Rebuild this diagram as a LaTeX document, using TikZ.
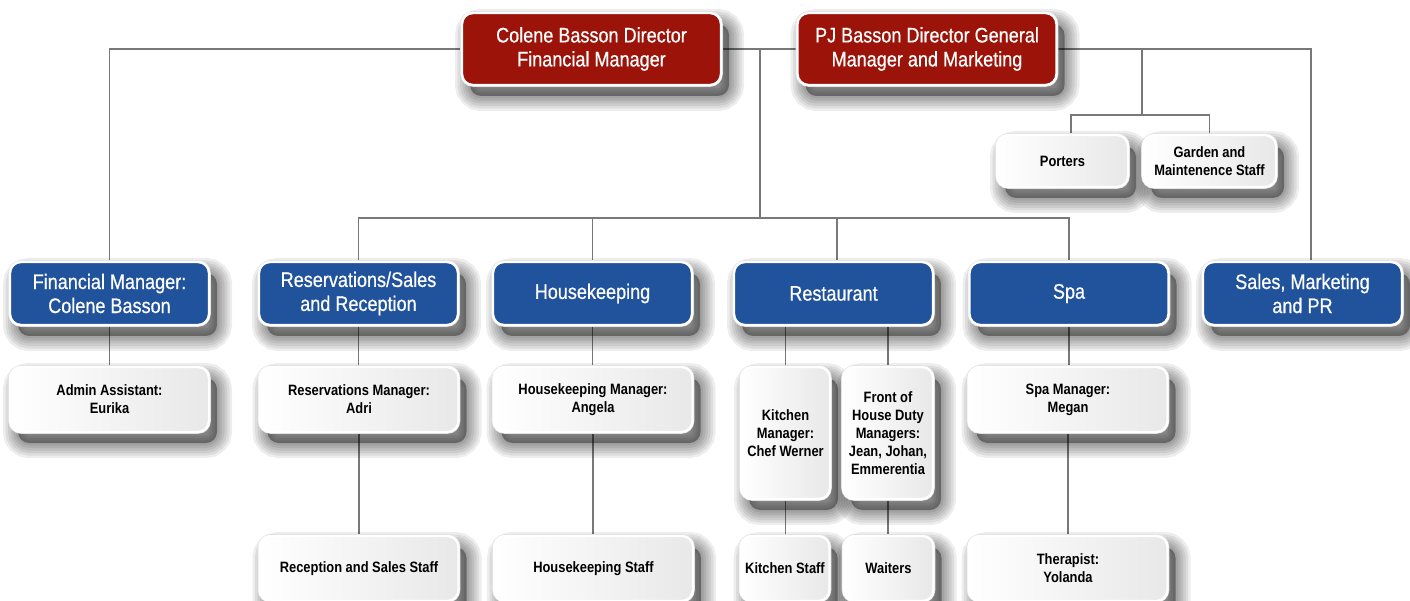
\documentclass[tikz,border=0pt]{standalone}
\usepackage{fontspec}
\setmainfont{Liberation Sans}[FakeStretch=0.86]
\newfontfamily\headfont{Liberation Sans}[FakeStretch=0.86, FakeBold=0.6]
\pgfdeclarelayer{bg}
\pgfsetlayers{bg,main}
\definecolor{boxblue}{RGB}{33,83,156}
\definecolor{boxred}{RGB}{156,19,9}
\definecolor{linegray}{RGB}{120,120,120}
\tikzset{
  shstep/.style={preaction={draw=black, draw opacity=0.07, line width=#1,
      transform canvas={shift={(8pt,-11pt)}}}},
  softshadow/.style={
    shstep=30pt, shstep=25pt, shstep=20pt, shstep=15pt, shstep=10pt, shstep=5pt,
    preaction={fill=black, fill opacity=0.36,
      transform canvas={shift={(8pt,-11pt)}}}},
  box/.style={rounded corners=11pt, inner sep=0pt, align=center, softshadow,
    preaction={draw=black!12, line width=3.6pt}, draw=white, line width=2.4pt},
  redbox/.style={box, fill=boxred, text=white, minimum width=259pt, minimum height=72pt,
    font=\headfont\fontsize{21}{24}\selectfont},
  bluebox/.style={box, fill=boxblue, text=white, minimum width=199pt, minimum height=63pt,
    font=\headfont\fontsize{21}{24}\selectfont},
  whitebox/.style={box, left color=white, right color=black!9, text=black,
    minimum width=199pt, minimum height=65pt, font=\bfseries\fontsize{15}{18}\selectfont},
  conn/.style={draw=linegray, line width=1.4pt},
}
\begin{document}
\begin{tikzpicture}[x=1pt, y=-1pt]
\useasboundingbox (0,0) rectangle (1410,601);
\begin{pgfonlayer}{bg}
\fill[white] (0,0) rectangle (1410,601);
\end{pgfonlayer}

% top level
\node[redbox] (cb) at (591.5,49) {Colene Basson Director\\Financial Manager};
\node[redbox] (pj) at (927,49) {PJ Basson Director General\\Manager and Marketing};

% departments
\node[bluebox] (fin) at (109.5,293.5) {Financial Manager:\\Colene Basson};
\node[bluebox] (res) at (358.5,293.5) {Reservations/Sales\\and Reception};
\node[bluebox] (hk) at (592.5,293.5) {Housekeeping};
\node[bluebox] (rest) at (833.5,293.5) {Restaurant};
\node[bluebox] (spa) at (1069,293.5) {Spa};
\node[bluebox] (sales) at (1302.5,293.5) {Sales, Marketing\\and PR};

% porters / garden
\node[whitebox, minimum width=131pt, minimum height=52pt] (port) at (1062.5,161) {Porters};
\node[whitebox, minimum width=133pt, minimum height=52pt] (gard) at (1209.5,161) {Garden and\\Maintenence Staff};

% managers row
\node[whitebox] (adm) at (109.5,399.5) {Admin Assistant:\\Eurika};
\node[whitebox] (resm) at (359,399.5) {Reservations Manager:\\Adri};
\node[whitebox] (hkm) at (593,399.5) {Housekeeping Manager:\\Angela};
\node[whitebox, minimum width=89pt, minimum height=132pt] (kit) at (785.5,433) {Kitchen\\Manager:\\Chef Werner};
\node[whitebox, minimum width=90pt, minimum height=132pt] (foh) at (888,433) {Front of\\House Duty\\Managers:\\Jean, Johan,\\Emmerentia};
\node[whitebox] (spam) at (1068,399.5) {Spa Manager:\\Megan};

% staff row
\node[whitebox] (rec) at (359,568.5) {Reception and Sales Staff};
\node[whitebox] (hks) at (593.5,568.5) {Housekeeping Staff};
\node[whitebox, minimum width=89pt] (kits) at (785,568.5) {Kitchen Staff};
\node[whitebox, minimum width=90pt] (wait) at (888.5,568.5) {Waiters};
\node[whitebox] (ther) at (1068,568.5) {Therapist:\\Yolanda};

% helper coordinates
\coordinate (hub) at (760,49);
\coordinate (bus) at (760,218);
\coordinate (tr) at (1311,49);
\coordinate (ph) at (1142,49);
\coordinate (pb) at (1142,115);
\coordinate (pl) at (1071,115);
\coordinate (rb) at (837,218);

\begin{pgfonlayer}{bg}
\draw[conn] (fin.north) |- (cb.west);
\draw[conn] (cb.east) -- (pj.west);
\draw[conn] (pj.east) -| (tr |- sales.north);
\draw[conn] (hub) -- (bus);
\draw[conn] (res.north) |- (bus) -| (spa.north);
\draw[conn] (hk.north) -- (hk.north |- bus);
\draw[conn] (rb) -- (rb |- rest.north);
\draw[conn] (ph) -- (pb);
\draw[conn] (pl |- port.north) -- (pl) -| (gard.north);
\draw[conn] (fin.south) -- (fin.south |- adm.north);
\draw[conn] (res.south) -- (res.south |- resm.north);
\draw[conn] (resm.south) -- (resm.south |- rec.north);
\draw[conn] (hk.south) -- (hk.south |- hkm.north);
\draw[conn] (hkm.south) -- (hkm.south |- hks.north);
\draw[conn] (kit.north) -- (kit.north |- rest.south);
\draw[conn] (foh.north) -- (foh.north |- rest.south);
\draw[conn] (kit.south) -- (kit.south |- kits.north);
\draw[conn] (foh.south) -- (foh.south |- wait.north);
\draw[conn] (spa.south) -- (spa.south |- spam.north);
\draw[conn] (spam.south) -- (spam.south |- ther.north);
\end{pgfonlayer}
\end{tikzpicture}
\end{document}
